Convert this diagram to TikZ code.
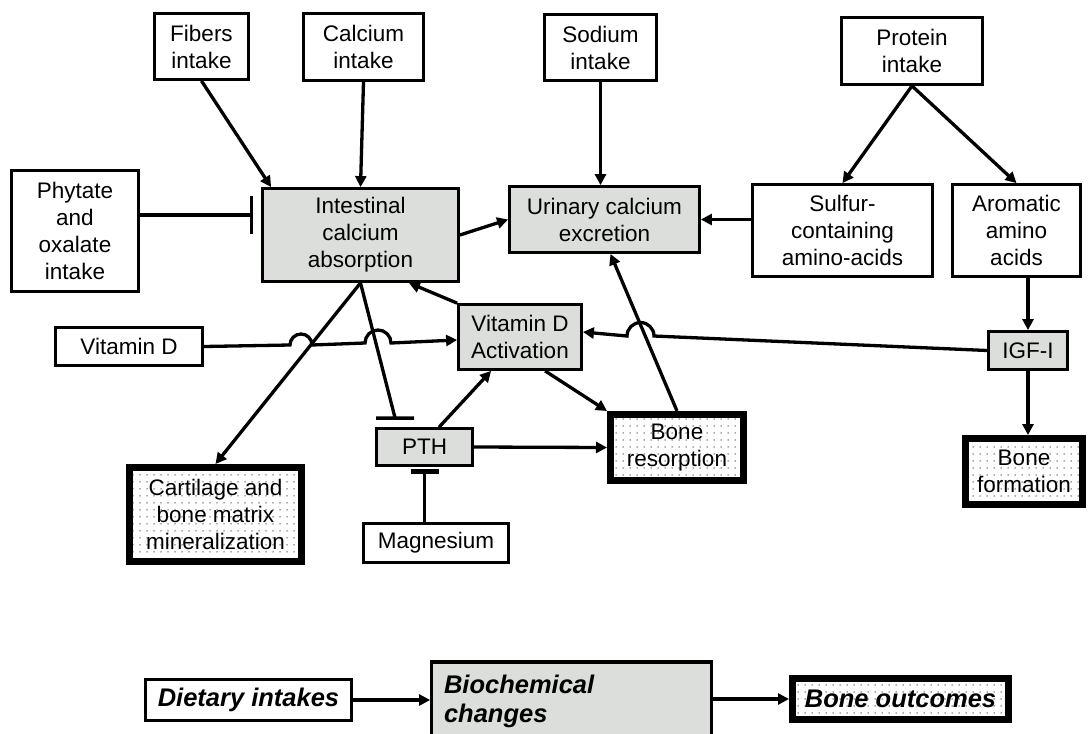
\documentclass[tikz,border=0pt]{standalone}
\usepackage{fontspec}
\setmainfont{Liberation Sans}
\usetikzlibrary{arrows.meta,patterns.meta,calc}
\definecolor{gfill}{RGB}{220,222,220}
\newcommand\dmainfont{\fontsize{22.5}{27}\selectfont}
\newcommand\dlegfont{\fontsize{25.5}{29}\selectfont\bfseries\itshape}
\begin{document}
\begin{tikzpicture}[x=1pt,y=-1pt,
  box/.style={draw, line width=3.3pt, inner sep=0pt, align=center, font=\dmainfont, fill=white},
  gbox/.style={box, fill=gfill},
  obox/.style={draw, line width=7pt, inner sep=0pt, align=center, font=\dmainfont,
    preaction={fill=white}, pattern={Dots[distance=7pt,radius=0.75pt]}, pattern color=black!65},
  conn/.style={line width=3.3pt},
  arr/.style={conn, -{Triangle[length=11pt,width=11pt]}},
  inh/.style={conn, -{Bar[width=38pt,line width=3.3pt]}, shorten >=8pt},
  inhb/.style={conn, -{Bar[width=28pt,line width=5pt]}, shorten >=2pt}
]
\useasboundingbox (0,0) rectangle (1088,734);
% nodes
\node[box, minimum width=93.5pt, minimum height=65.5pt] (fib) at (201.5,46.5) {Fibers\\intake};
\node[box, minimum width=119.5pt, minimum height=66.5pt] (cal) at (363.5,47) {Calcium\\intake};
\node[box, minimum width=111.5pt, minimum height=65.5pt] (sod) at (600.5,47.5) {Sodium\\intake};
\node[box, minimum width=140.5pt, minimum height=66.5pt] (pro) at (912,51) {Protein\\intake};
\node[box, minimum width=126.5pt, minimum height=120.5pt] (phy) at (75,231) {Phytate\\and\\oxalate\\intake};
\node[gbox, minimum width=195.5pt, minimum height=92.5pt] (int) at (360.5,235) {Intestinal\\calcium\\absorption};
\node[gbox, minimum width=189.5pt, minimum height=65.5pt] (uri) at (604.5,219.5) {Urinary calcium\\excretion};
\node[box, minimum width=179.5pt, minimum height=91.5pt] (sul) at (842.5,230.5) {Sulfur-\\containing\\amino-acids};
\node[box, minimum width=127.5pt, minimum height=91.5pt] (aro) at (1016.5,230.5) {Aromatic\\amino\\acids};
\node[box, minimum width=146.5pt, minimum height=37.5pt] (vd) at (129,346.5) {Vitamin D};
\node[gbox, minimum width=122.5pt, minimum height=64.5pt] (vda) at (520,337) {Vitamin D\\Activation};
\node[gbox, minimum width=78.5pt, minimum height=37.5pt] (igf) at (1028,350.5) {IGF-I};
\node[gbox, minimum width=95.5pt, minimum height=36.5pt] (pth) at (424.5,447) {PTH};
\node[obox, minimum width=133pt, minimum height=66pt] (br) at (677,447.5) {Bone\\resorption};
\node[obox, minimum width=172pt, minimum height=94pt] (cart) at (215.5,514.5) {Cartilage and\\bone matrix\\mineralization};
\node[box, minimum width=144.5pt, minimum height=38.5pt] (mag) at (436,543) {Magnesium};
\node[obox, minimum width=117pt, minimum height=66pt] (bf) at (1024,471.5) {Bone\\formation};
% legend
\node[box, font=\dlegfont, minimum width=205.5pt, minimum height=40.5pt] (di) at (248.5,700) {Dietary intakes};
\node[gbox, font=\dlegfont, minimum width=279.5pt, minimum height=78pt, text width=255pt, align=left] (bc) at (571.5,701) {Biochemical\\changes};
\node[obox, font=\dlegfont, minimum width=216pt, minimum height=41pt] (bo) at (900.5,699) {Bone outcomes};
% connectors
\draw[arr] (fib.south) -- ([xshift=10pt]int.north west);
\draw[arr] (cal.south) -- (int.north);
\draw[arr] (sod.south) -- (sod.south |- uri.north);
\draw[arr] (pro.south) -- (sul.north);
\draw[arr] (pro.south) -- (aro.north);
\draw[arr] (sul.west |- uri.east) -- (uri.east);
\draw[arr] (int.east) -- (uri.west);
\draw[inh] ([yshift=16pt]phy.east) -- ([yshift=16pt]phy.east -| int.west);
\draw[arr] (vda.north west) -- ([xshift=-51pt]int.south east);
\draw[arr] (int.south) -- (cart.north);
\draw[conn] (int.south) -- ([xshift=20pt,yshift=9pt]pth.north west) ++(-19pt,0) -- ++(38pt,0);
\draw[arr] ([xshift=64pt]pth.north west) -- ([xshift=34pt]vda.south west);
\draw[arr] ([xshift=88pt]vda.south west) -- (br.north west);
\draw[arr] (pth.east) -- (br.west);
\draw[arr] (br.north) -- ([xshift=6pt]uri.south);
\draw[inhb] (pth.south |- mag.north) -- (pth.south);
\draw[arr] (igf.north |- aro.south) -- (igf.north);
\draw[arr] (igf.south) -- (igf.south |- bf.north);
\draw[arr] (vd.east) -- (290,345) arc[start angle=180,end angle=0,radius=11pt] -- (365,343) arc[start angle=180,end angle=0,radius=13pt] -- ([yshift=-3pt]vda.west);
\draw[arr] (igf.west) -- (654,336) arc[start angle=0,end angle=180,radius=13.5pt] -- ([yshift=5pt]vda.east);
\draw[arr] (di.east) -- (di.east -| bc.west);
\draw[arr] (bc.east |- bo.west) -- (bo.west);
\end{tikzpicture}
\end{document}
